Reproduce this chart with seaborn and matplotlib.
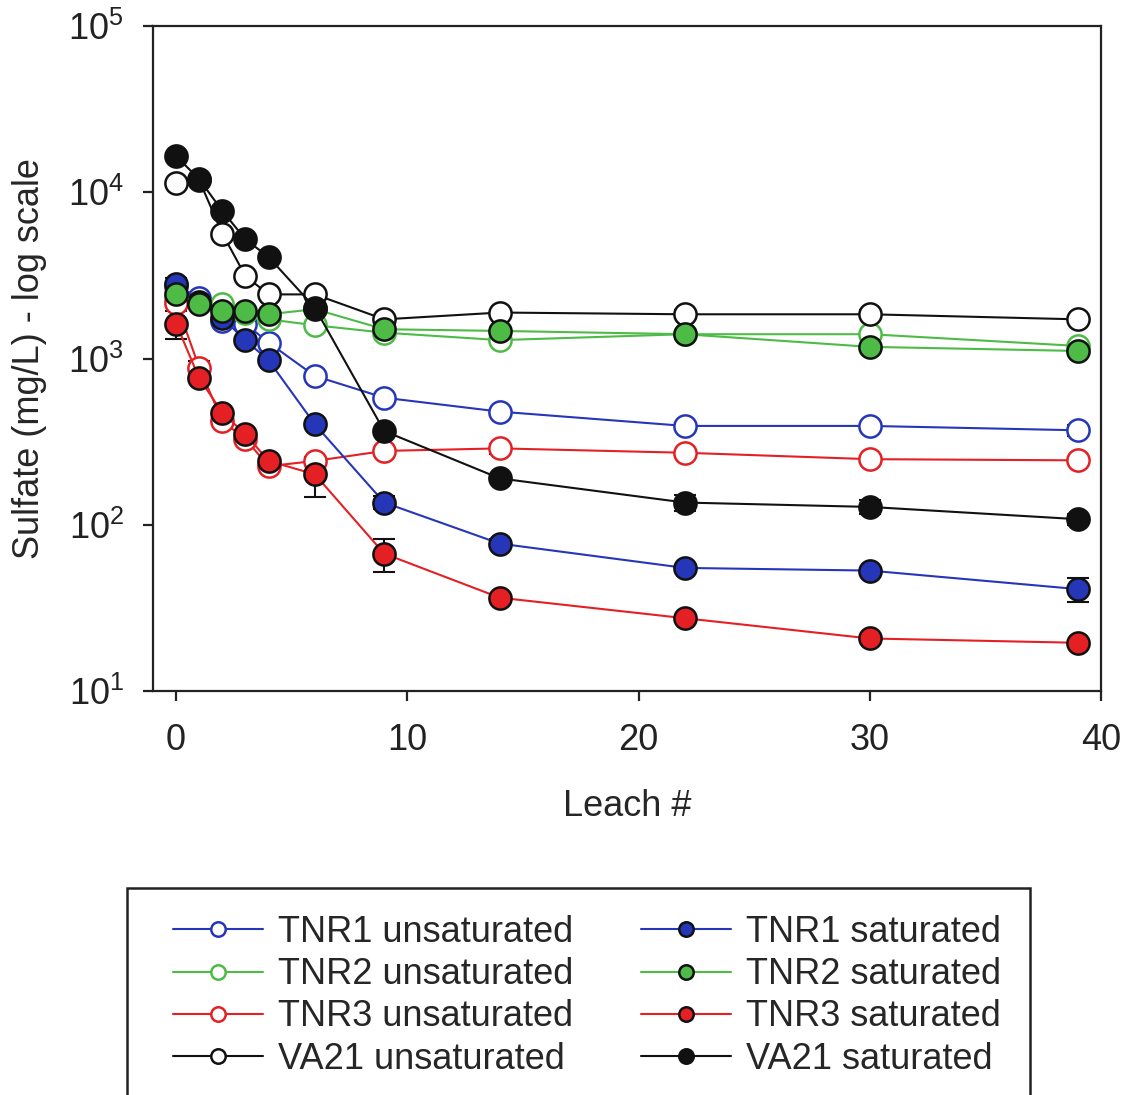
import numpy as np
import pandas as pd
import matplotlib
matplotlib.use("Agg")
import matplotlib.pyplot as plt
from matplotlib.patches import Rectangle
import seaborn as sns

# Leach number and sulfate concentrations (mg/L)
leach = [0, 1, 2, 3, 4, 6, 9, 14, 22, 30, 39]

tnr1_unsat = [2730, 2320, 1680, 1620, 1245, 785, 581, 479, 393, 393, 370]
tnr1_sat = [2790, 2200, 1750, 1285, 975, 402, 136, 77, 55, 53, 41]
tnr2_unsat = [2300, 2150, 2130, 1880, 1720, 1585, 1430, 1290, 1400, 1400, 1190]
tnr2_sat = [2430, 2140, 1930, 1930, 1845, 1980, 1500, 1465, 1400, 1175, 1110]
tnr3_unsat = [2170, 880, 421, 327, 225, 242, 278, 288, 271, 248, 244]
tnr3_sat = [1620, 760, 472, 350, 242, 201, 67, 36.4, 27.4, 20.7, 19.5]
va21_unsat = [11400, 11800, 5640, 3130, 2430, 2430, 1720, 1890, 1845, 1845, 1720]
va21_sat = [16500, 11970, 7710, 5210, 4075, 2020, 366, 190, 136, 128, 108]

# Standard deviations (mg/L)
tnr1_unsat_sd = [300, 0, 0, 0, 0, 0, 0, 0, 0, 0, 30]
tnr1_sat_sd = [0, 0, 0, 0, 0, 0, 12, 5, 0, 0, 6.5]
tnr2_unsat_sd = [0] * 11
tnr2_sat_sd = [0] * 11
tnr3_unsat_sd = [0, 90, 0, 0, 0, 0, 0, 20, 0, 0, 0]
tnr3_sat_sd = [310, 0, 0, 0, 0, 55, 15, 0, 0, 0, 0]
va21_unsat_sd = [0, 0, 0, 0, 0, 0, 0, 0, 100, 100, 0]
va21_sat_sd = [0, 0, 0, 0, 0, 0, 0, 0, 15, 12, 8]

labels = ["TNR1 unsaturated", "TNR2 unsaturated", "TNR3 unsaturated", "VA21 unsaturated",
          "TNR1 saturated", "TNR2 saturated", "TNR3 saturated", "VA21 saturated"]

blue, green, red, black = "#2536b8", "#4dbb45", "#e42024", "#111111"

series = [
    (labels[0], tnr1_unsat, tnr1_unsat_sd, blue, False),
    (labels[1], tnr2_unsat, tnr2_unsat_sd, green, False),
    (labels[2], tnr3_unsat, tnr3_unsat_sd, red, False),
    (labels[3], va21_unsat, va21_unsat_sd, black, False),
    (labels[4], tnr1_sat, tnr1_sat_sd, blue, True),
    (labels[5], tnr2_sat, tnr2_sat_sd, green, True),
    (labels[6], tnr3_sat, tnr3_sat_sd, red, True),
    (labels[7], va21_sat, va21_sat_sd, black, True),
]

sns.set_style("ticks")
plt.rcParams["font.family"] = ["Liberation Sans", "DejaVu Sans"]
plt.rcParams["mathtext.fontset"] = "custom"
plt.rcParams["mathtext.rm"] = "Liberation Sans"
plt.rcParams["mathtext.it"] = "Liberation Sans"

W, H = 1128, 1095
fig = plt.figure(figsize=(W / 100, H / 100), dpi=100)
ax = fig.add_axes([153 / W, 1 - 691 / H, (1101 - 153) / W, (691 - 26) / H])

for name, vals, sd, color, filled in series:
    df = pd.DataFrame({"leach": leach, "sulfate": vals})
    ax.errorbar(leach, vals, yerr=sd, fmt="none", ecolor=black, elinewidth=1.5,
                capsize=8, capthick=1.5, zorder=2)
    sns.lineplot(data=df, x="leach", y="sulfate", ax=ax, color=color, linewidth=1.5,
                 marker="o", markersize=16,
                 markerfacecolor=color if filled else "white",
                 markeredgecolor=black if filled else color,
                 markeredgewidth=1.8, label=name, zorder=4 if filled else 3,
                 legend=False)

ax.set_yscale("log")
ax.set_ylim(10, 1e5)
ax.set_xlim(-1, 40)
ax.set_xticks([0, 10, 20, 30, 40])
ax.set_yticks([1e1, 1e2, 1e3, 1e4, 1e5])
ax.yaxis.set_minor_locator(matplotlib.ticker.NullLocator())

for s in ax.spines.values():
    s.set_linewidth(1.6)
    s.set_color("#222222")
ax.tick_params(axis="both", direction="out", length=7, width=1.6, labelsize=26,
               colors="#222222")
ax.tick_params(axis="x", pad=16)
ax.tick_params(axis="y", pad=14)
ax.set_xlabel("Leach #", fontsize=26, labelpad=22)
ax.set_ylabel("Sulfate (mg/L) - log scale", fontsize=26, labelpad=15)

# Legend frame, open at the bottom edge of the figure
fig.add_artist(Rectangle((127 / W, -0.01), (1030 - 127) / W, 0.01 + (H - 888) / H,
                         transform=fig.transFigure, fill=False,
                         edgecolor="#222222", linewidth=1.8))

handles, labs = ax.get_legend_handles_labels()
order = [labs.index(l) for l in labels]
leg = fig.legend([handles[i] for i in order], [labs[i] for i in order],
                 loc="upper left", bbox_to_anchor=(173 / W, 1 - 915 / H),
                 ncol=2, fontsize=26, frameon=False,
                 markerscale=0.65, handlelength=2.5, handletextpad=0.42,
                 columnspacing=1.85, labelspacing=0.2, borderpad=0,
                 borderaxespad=0)

fig.savefig("out.png", dpi=100)
